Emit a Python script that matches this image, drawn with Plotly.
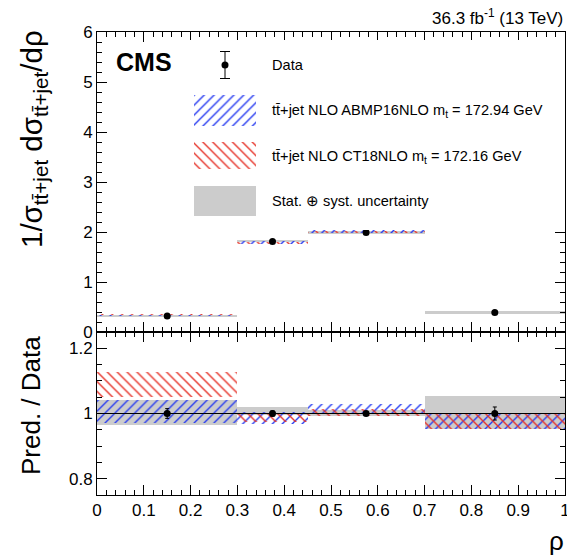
import plotly.graph_objects as go

# ---------------- data ----------------
bin_lo = [0.0, 0.3, 0.45, 0.7]
bin_hi = [0.3, 0.45, 0.7, 1.0]
data_vals = [0.32, 1.81, 1.99, 0.39]          # 1/sigma dsigma/drho
data_rel_err = [0.015, 0.008, 0.006, 0.02]    # relative data error (ratio panel)
unc_lo = [0.966, 0.994, 0.992, 0.954]         # stat+syst band (ratio)
unc_hi = [1.041, 1.020, 1.012, 1.054]
abmp_lo = [0.970, 0.967, 1.000, 0.954]        # ABMP16NLO prediction / data
abmp_hi = [1.040, 1.005, 1.028, 0.997]
ct18_lo = [1.050, 0.975, 0.993, 0.954]        # CT18NLO prediction / data
ct18_hi = [1.128, 1.000, 1.015, 0.997]

x_ticks = [0, 0.1, 0.2, 0.3, 0.4, 0.5, 0.6, 0.7, 0.8, 0.9, 1.0]
legend_labels = ["Data",
                 "tt\u0304+jet NLO ABMP16NLO m<sub>t</sub> = 172.94 GeV",
                 "tt\u0304+jet NLO CT18NLO m<sub>t</sub> = 172.16 GeV",
                 "Stat. \u2295 syst. uncertainty"]

# ---------------- styles ----------------
FONT = "Liberation Sans, Arial, Helvetica, sans-serif"
BLUE = "rgb(40,60,240)"
RED = "rgb(230,50,40)"
GRAY = "rgb(204,204,204)"
W, H = 567, 556
ML, MR, MT, MB = 97, 2, 32, 61
PW, PH = W - ML - MR, H - MT - MB
SPLIT = 163 / PH   # ratio panel fraction


def px2paper_x(px):
    return (px - ML) / PW


def px2paper_y(py):
    return (H - MB - py) / PH


centers = [(a + b) / 2 for a, b in zip(bin_lo, bin_hi)]
widths = [b - a for a, b in zip(bin_lo, bin_hi)]


def hatch(shape, color):
    return dict(color="rgba(0,0,0,0)", line=dict(width=0),
                pattern=dict(shape=shape, fgcolor=color, bgcolor="rgba(0,0,0,0)",
                             size=7, solidity=0.2, fillmode="replace"))


fig = go.Figure()

# ---------- top panel ----------
def band_top(lo, hi):
    b = [d * l for d, l in zip(data_vals, lo)]
    h = [d * (u - l) for d, l, u in zip(data_vals, lo, hi)]
    return b, h

b, h = band_top(unc_lo, unc_hi)
fig.add_trace(go.Bar(x=centers, y=h, base=b, width=widths, marker=dict(color=GRAY, line=dict(width=0)),
                     xaxis="x", yaxis="y", showlegend=False))
b, h = band_top(abmp_lo, abmp_hi)
fig.add_trace(go.Bar(x=centers, y=h, base=b, width=widths, marker=hatch("/", BLUE),
                     xaxis="x", yaxis="y", showlegend=False))
b, h = band_top(ct18_lo, ct18_hi)
fig.add_trace(go.Bar(x=centers, y=h, base=b, width=widths, marker=hatch("\\", RED),
                     xaxis="x", yaxis="y", showlegend=False))
fig.add_trace(go.Scatter(x=centers, y=data_vals, mode="markers",
                         marker=dict(color="black", size=7),
                         error_y=dict(type="data", array=[d * e for d, e in zip(data_vals, data_rel_err)],
                                      color="black", thickness=1, width=2),
                         xaxis="x", yaxis="y", showlegend=False))

# ---------- ratio panel ----------
fig.add_trace(go.Bar(x=centers, y=[u - l for l, u in zip(unc_lo, unc_hi)], base=unc_lo, width=widths,
                     marker=dict(color=GRAY, line=dict(width=0)), xaxis="x2", yaxis="y2", showlegend=False))
fig.add_trace(go.Bar(x=centers, y=[u - l for l, u in zip(abmp_lo, abmp_hi)], base=abmp_lo, width=widths,
                     marker=hatch("/", BLUE), xaxis="x2", yaxis="y2", showlegend=False))
fig.add_trace(go.Bar(x=centers, y=[u - l for l, u in zip(ct18_lo, ct18_hi)], base=ct18_lo, width=widths,
                     marker=hatch("\\", RED), xaxis="x2", yaxis="y2", showlegend=False))
fig.add_trace(go.Scatter(x=[bin_lo[0], bin_hi[-1]], y=[1, 1], mode="lines",
                         line=dict(color="black", width=1), xaxis="x2", yaxis="y2", showlegend=False))
fig.add_trace(go.Scatter(x=centers, y=[1.0] * len(centers), mode="markers",
                         marker=dict(color="black", size=7),
                         error_y=dict(type="data", array=data_rel_err, color="black", thickness=1, width=2),
                         xaxis="x2", yaxis="y2", showlegend=False))

# ---------- legend (drawn on a hidden pixel-unit axis) ----------
SW_X, SW_W = 224.5, 62
fig.add_trace(go.Scatter(x=[225], y=[65], mode="markers", marker=dict(color="black", size=7),
                         error_y=dict(type="constant", value=13.5, color="black", thickness=1, width=5),
                         xaxis="x3", yaxis="y3", showlegend=False, hoverinfo="skip"))
fig.add_trace(go.Bar(x=[SW_X], y=[31], base=[95], width=[SW_W], marker=hatch("/", BLUE),
                     xaxis="x3", yaxis="y3", showlegend=False, hoverinfo="skip"))
fig.add_trace(go.Bar(x=[SW_X], y=[27], base=[142], width=[SW_W], marker=hatch("\\", RED),
                     xaxis="x3", yaxis="y3", showlegend=False, hoverinfo="skip"))
fig.add_trace(go.Bar(x=[SW_X], y=[30], base=[186], width=[SW_W], marker=dict(color=GRAY, line=dict(width=0)),
                     xaxis="x3", yaxis="y3", showlegend=False, hoverinfo="skip"))

annotations = []
for lab, yy in zip(legend_labels, [65, 111, 157, 201]):
    annotations.append(dict(text=lab, x=270, y=yy, xref="x3", yref="y3", xanchor="left", yanchor="middle",
                            showarrow=False, font=dict(family=FONT, size=14.6, color="black")))

annotations += [
    dict(text="<b>CMS</b>", x=px2paper_x(114), y=px2paper_y(62), xref="paper", yref="paper",
         xanchor="left", yanchor="middle", showarrow=False, font=dict(family=FONT, size=25, color="black")),
    dict(text="36.3 fb<sup>-1</sup> (13 TeV)", x=px2paper_x(565), y=px2paper_y(17), xref="paper", yref="paper",
         xanchor="right", yanchor="middle", showarrow=False, font=dict(family=FONT, size=17, color="black")),
    dict(text="1/\u03c3<sub>tt\u0304+jet</sub> d\u03c3<sub>tt\u0304+jet</sub>/d\u03c1", textangle=-90,
         x=px2paper_x(34), y=px2paper_y(28), xref="paper", yref="paper", xanchor="center", yanchor="top",
         showarrow=False, font=dict(family=FONT, size=29.5, color="black")),
    dict(text="Pred. / Data", textangle=-90,
         x=px2paper_x(31), y=px2paper_y(406), xref="paper", yref="paper", xanchor="center", yanchor="middle",
         showarrow=False, font=dict(family=FONT, size=26, color="black")),
    dict(text="\u03c1", x=px2paper_x(566), y=px2paper_y(541), xref="paper", yref="paper",
         xanchor="right", yanchor="middle", showarrow=False, font=dict(family=FONT, size=26, color="black")),
]

axis_common = dict(showline=True, linecolor="black", linewidth=1, mirror="allticks", ticks="inside",
                   ticklen=10, tickwidth=1, tickcolor="black", showgrid=False, zeroline=False,
                   automargin=False, tickfont=dict(family=FONT, size=17, color="black"))

fig.update_layout(
    width=W, height=H, margin=dict(l=ML, r=MR, t=MT, b=MB, autoexpand=False),
    paper_bgcolor="white", plot_bgcolor="white", barmode="overlay", bargap=0,
    showlegend=False, font=dict(family=FONT, color="black"),
    xaxis=dict(domain=[0, 1], range=[0, 1], anchor="y", showticklabels=False, tickvals=x_ticks,
               minor=dict(ticks="inside", ticklen=5, dtick=0.02, tickcolor="black"), **axis_common),
    yaxis=dict(domain=[SPLIT, 1], range=[0, 6.0], anchor="x", dtick=1,
               minor=dict(ticks="inside", ticklen=5, dtick=0.2, tickcolor="black"), **axis_common),
    xaxis2=dict(domain=[0, 1], range=[0, 1], anchor="y2", tickvals=x_ticks,
                ticktext=[f"{v:g}" for v in x_ticks], ticklabeloverflow="allow",
                minor=dict(ticks="inside", ticklen=5, dtick=0.02, tickcolor="black"), **axis_common),
    yaxis2=dict(domain=[0, SPLIT], range=[0.75, 1.25], anchor="x2", tickvals=[0.8, 1.0, 1.2],
                ticktext=["0.8", "1", "1.2"],
                minor=dict(ticks="inside", ticklen=5, dtick=0.05, tickcolor="black"), **axis_common),
    xaxis3=dict(domain=[px2paper_x(180), 1], range=[180, 565], anchor="y3", visible=False, fixedrange=True),
    yaxis3=dict(domain=[px2paper_y(230), px2paper_y(40)], range=[230, 40], anchor="x3", visible=False,
                fixedrange=True),
    annotations=annotations,
)

fig.write_html("out.html", config={"displayModeBar": False},
               post_script="document.body.style.margin='0';document.body.style.overflow='hidden';")
